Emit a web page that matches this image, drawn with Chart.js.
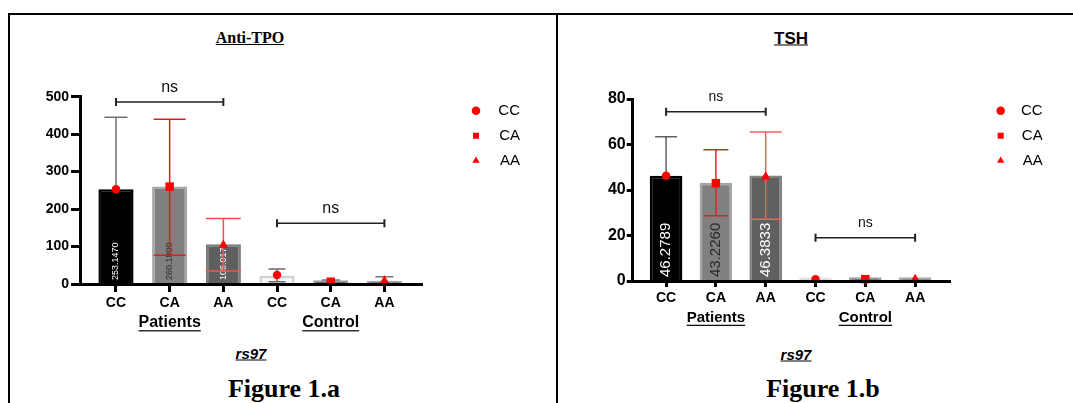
<!DOCTYPE html>
<html>
<head>
<meta charset="utf-8">
<title>Anti-TPO and TSH by rs97 genotype</title>
<script src="https://cdn.jsdelivr.net/npm/chart.js@4.4.1/dist/chart.umd.min.js"></script>
<style>
  html, body { margin: 0; padding: 0; background: #fff; }
  body { width: 1073px; height: 403px; overflow: hidden; position: relative; font-family: "Liberation Sans", Arial, sans-serif; }
  #frame { position: absolute; left: 8px; top: 13px; width: 1200px; height: 600px; border: 2px solid #000; }
  #divider { position: absolute; left: 556px; top: 13px; width: 2px; height: 400px; background: #000; }
  .lbl { position: absolute; transform: translate(-50%, -50%); white-space: nowrap; line-height: 1; color: #000; }
  .serif { font-family: "Liberation Serif", "Times New Roman", serif; font-weight: bold; }
  .sans { font-weight: bold; }
  .ul { text-decoration: underline; }
  canvas { position: absolute; }
</style>
</head>
<body>
<div id="frame"></div>
<div id="divider"></div>
<div class="lbl serif ul" style="left:250px;top:38px;font-size:16px">Anti-TPO</div>
<div class="lbl sans ul" style="left:791px;top:38px;font-size:17px">TSH</div>
<div class="lbl sans ul" style="left:251px;top:353px;font-size:15px;font-style:italic">rs97</div>
<div class="lbl sans ul" style="left:796px;top:354px;font-size:15px;font-style:italic">rs97</div>
<div class="lbl serif" style="left:284px;top:389px;font-size:26px">Figure 1.a</div>
<div class="lbl serif" style="left:823px;top:389px;font-size:26px">Figure 1.b</div>
<canvas id="tpoChart" style="left:10px;top:56px" width="530" height="290"></canvas>
<canvas id="tshChart" style="left:563px;top:56px" width="500" height="290"></canvas>
<script>
// categories along the x axis
const categories = ['CC', 'CA', 'AA', 'CC', 'CA', 'AA'];
const groupNames = ['Patients', 'Control'];
const genotypes = ['CC', 'CA', 'AA'];

// Anti-TPO
const tpoMeans = [253.147, 260.18, 106.017, 22, 10, 9];
const tpoPoints = [253, 260, 104, 24, 6, 9];
const tpoErrLow = [null, 77, 35, 6, null, null];
const tpoErrHigh = [445, 440, 175, 40, 11, 19.5];
const tpoNsLevels = [486, 162];
const tpoTicks = [0, 100, 200, 300, 400, 500];

// TSH
const tshMeans = [46.2789, 43.226, 46.3833, 1.6, 1.6, 1.7];
const tshPoints = [46.3, 43, 45.8, 0.8, 0.8, 0.8];
const tshErrLow = [null, 28.7, 27.1, null, null, null];
const tshErrHigh = [63.4, 57.7, 65.5, null, null, null];
const tshNsLevels = [74.4, 19];
const tshTicks = [0, 20, 40, 60, 80];

// styling
const markerStyles = { CC: ['circle', 4.2], CA: ['rect', 6], AA: ['triangle', 5.5] };
const labelColors = ['#ffffff', '#2a2a2a', '#ffffff'];

const tpoStyle = {
    barFill: ['#000000', '#808080', '#5f5f5f', '#f7f7f7', '#6a6a6a', '#8a8a8a'],
    barEdge: ['#000000', '#a8a8a8', '#7c7c7c', '#d2d2d2', '#a0a0a0', '#a8a8a8'],
    errColor: ['#707070', '#e01b1b', '#ff4d4d', '#6a6a6a', '#777777', '#777777'],
    capHalf: [11.5, 16, 17.5, 8.5, 9, 9],
    yFont: 14, yTickLen: 9, yPad: 2, xTickLen: 8,
    valueFont: 9, nsFont: 16, groupFont: 16, groupOffset: 39,
    // pixel frame of the plot on the page
    canvasLeft: 10, canvasTop: 56, width: 530, height: 290,
    plotLeft: 80, plotRight: 422, plotTop: 96.7, plotBottom: 284,
    legendX: 476, legendY: 110.7, legendRight: 520
};

const tshStyle = {
    barFill: ['#000000', '#808080', '#606060', '#d9d9d9', '#7a7a7a', '#8c8c8c'],
    barEdge: ['#000000', '#a6a6a6', '#828282', '#e6e6e6', '#a0a0a0', '#a8a8a8'],
    errColor: ['#606060', '#d92626', '#ff5c5c', '#777777', '#777777', '#777777'],
    capHalf: [11, 12.5, 16, 8, 8, 8],
    yFont: 16, yTickLen: 6, yPad: 1, xTickLen: 6,
    valueFont: 15, nsFont: 14, groupFont: 15, groupOffset: 37,
    canvasLeft: 563, canvasTop: 56, width: 500, height: 290,
    plotLeft: 632.7, plotRight: 950, plotTop: 99, plotBottom: 281,
    legendX: 1000.7, legendY: 110.7, legendRight: 1042.7
};

Chart.defaults.font.family = '"Liberation Sans", Arial, sans-serif';
Chart.defaults.color = '#000';

// error bars, value labels, ns brackets and group names
function decorFor(d, s) {
    return {
        id: 'decor',
        afterDatasetDraw(chart, args) {
            if (args.index !== 3) return;
            const ctx = chart.ctx, xs = chart.scales.x, ys = chart.scales.y;
            d.means.forEach((m, i) => {
                const x = xs.getPixelForValue(i);
                if (i < 3) {
                    ctx.save();
                    ctx.translate(x, ys.getPixelForValue(0) - 4);
                    ctx.rotate(-Math.PI / 2);
                    ctx.font = s.valueFont + 'px "Liberation Sans"';
                    ctx.fillStyle = labelColors[i];
                    ctx.textAlign = 'left';
                    ctx.textBaseline = 'middle';
                    ctx.fillText(m.toFixed(4), 0, 0);
                    ctx.restore();
                }
                if (d.errHigh[i] == null) return;
                const top = ys.getPixelForValue(d.errHigh[i]);
                const low = ys.getPixelForValue(d.errLow[i] == null ? m : d.errLow[i]);
                const half = s.capHalf[i];
                ctx.save();
                ctx.strokeStyle = s.errColor[i];
                ctx.lineWidth = 1.5;
                ctx.beginPath();
                ctx.moveTo(x, low);
                ctx.lineTo(x, top);
                ctx.moveTo(x - half, top);
                ctx.lineTo(x + half, top);
                if (d.errLow[i] != null) {
                    ctx.moveTo(x - half, low);
                    ctx.lineTo(x + half, low);
                }
                ctx.stroke();
                ctx.restore();
            });
        },
        afterDraw(chart) {
            const ctx = chart.ctx, xs = chart.scales.x, ys = chart.scales.y;
            ctx.save();
            d.nsLevels.forEach((lv, g) => {
                const x0 = xs.getPixelForValue(g * 3);
                const x1 = xs.getPixelForValue(g * 3 + 2);
                const y = ys.getPixelForValue(lv);
                ctx.strokeStyle = '#222';
                ctx.lineWidth = 1.5;
                ctx.beginPath();
                ctx.moveTo(x0, y);
                ctx.lineTo(x1, y);
                ctx.stroke();
                ctx.lineWidth = 2;
                ctx.beginPath();
                ctx.moveTo(x0, y - 4);
                ctx.lineTo(x0, y + 4);
                ctx.moveTo(x1, y - 4);
                ctx.lineTo(x1, y + 4);
                ctx.stroke();
                ctx.fillStyle = '#111';
                ctx.font = s.nsFont + 'px "Liberation Sans"';
                ctx.textAlign = 'center';
                ctx.textBaseline = 'middle';
                ctx.fillText('ns', (x0 + x1) / 2, y - 14.5);
            });
            ctx.font = 'bold ' + s.groupFont + 'px "Liberation Sans"';
            ctx.fillStyle = '#000';
            groupNames.forEach((name, g) => {
                const x = xs.getPixelForValue(g * 3 + 1);
                const y = chart.chartArea.bottom + s.groupOffset;
                ctx.fillText(name, x, y);
                const w = ctx.measureText(name).width;
                ctx.fillRect(x - w / 2, y + s.groupFont * 0.45, w, 1.2);
            });
            ctx.restore();
        }
    };
}

function makeChart(canvasId, d, s) {
    const PAD = 10, FS = 15, BOXW = 15;
    const yAxisW = s.plotLeft - s.canvasLeft;
    const padTop = s.legendY - s.canvasTop - PAD - FS / 2;
    const topSpacer = s.plotTop - s.canvasTop - padTop;
    const xAxisH = s.canvasTop + s.height - s.plotBottom;
    const legendLeft = s.legendX - BOXW / 2 - PAD;
    const legendW = s.legendRight - legendLeft;
    const rightSpacer = legendLeft - s.plotRight;
    const padRight = s.canvasLeft + s.width - s.legendRight;

    const datasets = genotypes.map((gt, k) => ({
        type: 'line',
        label: gt,
        data: [k, k + 3].map(i => ({ x: i, y: d.points[i] })),
        showLine: false,
        pointStyle: markerStyles[gt][0],
        pointRadius: markerStyles[gt][1],
        pointHoverRadius: markerStyles[gt][1],
        pointBorderWidth: 0,
        borderWidth: 0,
        backgroundColor: '#ff0000',
        borderColor: '#ff0000',
        clip: false
    }));
    datasets.push({
        type: 'bar',
        label: 'mean',
        data: d.means.map((v, i) => ({ x: i, y: v })),
        backgroundColor: s.barFill,
        borderColor: s.barEdge,
        borderWidth: 2.5,
        barPercentage: 0.655,
        categoryPercentage: 1
    });

    const spacer = {
        type: 'linear',
        display: true,
        ticks: { display: false },
        grid: { display: false },
        border: { display: false }
    };

    return new Chart(document.getElementById(canvasId), {
        type: 'bar',
        data: { datasets },
        options: {
            responsive: false,
            animation: false,
            events: [],
            layout: { padding: { left: 0, top: padTop, right: padRight, bottom: 0 } },
            scales: {
                x: {
                    type: 'linear',
                    min: -0.67,
                    max: 5.7,
                    offset: false,
                    afterBuildTicks: sc => { sc.ticks = categories.map((c, i) => ({ value: i })); },
                    afterFit: sc => { sc.height = xAxisH; },
                    ticks: {
                        callback: v => categories[v],
                        color: '#000',
                        font: { size: 14, weight: 'bold' },
                        padding: 3,
                        maxRotation: 0,
                        autoSkip: false
                    },
                    grid: { offset: false, drawOnChartArea: false, tickLength: s.xTickLen, tickWidth: 3, tickColor: '#000' },
                    border: { color: '#000', width: 3, z: 1 }
                },
                y: {
                    type: 'linear',
                    min: 0,
                    max: d.ticks[d.ticks.length - 1],
                    afterBuildTicks: sc => { sc.ticks = d.ticks.map(v => ({ value: v })); },
                    afterFit: sc => { sc.width = yAxisW; },
                    ticks: { color: '#000', font: { size: s.yFont, weight: 'bold' }, padding: s.yPad },
                    grid: { drawOnChartArea: false, tickLength: s.yTickLen, tickWidth: 3, tickColor: '#000' },
                    border: { color: '#000', width: 3, z: 1 }
                },
                x2: Object.assign({ position: 'top', afterFit: sc => { sc.height = topSpacer; } }, spacer),
                y2: Object.assign({ position: 'right', afterFit: sc => { sc.width = rightSpacer; } }, spacer)
            },
            plugins: {
                tooltip: { enabled: false },
                legend: {
                    position: 'right',
                    align: 'start',
                    fullSize: true,
                    maxWidth: legendW,
                    labels: {
                        usePointStyle: true,
                        boxWidth: BOXW,
                        boxHeight: 6,
                        padding: PAD,
                        textAlign: 'right',
                        color: '#000',
                        font: { size: FS },
                        filter: item => item.datasetIndex < 3
                    }
                }
            }
        },
        plugins: [decorFor(d, s)]
    });
}

makeChart('tpoChart', {
    means: tpoMeans, points: tpoPoints, errLow: tpoErrLow, errHigh: tpoErrHigh,
    nsLevels: tpoNsLevels, ticks: tpoTicks
}, tpoStyle);

makeChart('tshChart', {
    means: tshMeans, points: tshPoints, errLow: tshErrLow, errHigh: tshErrHigh,
    nsLevels: tshNsLevels, ticks: tshTicks
}, tshStyle);
</script>
</body>
</html>
